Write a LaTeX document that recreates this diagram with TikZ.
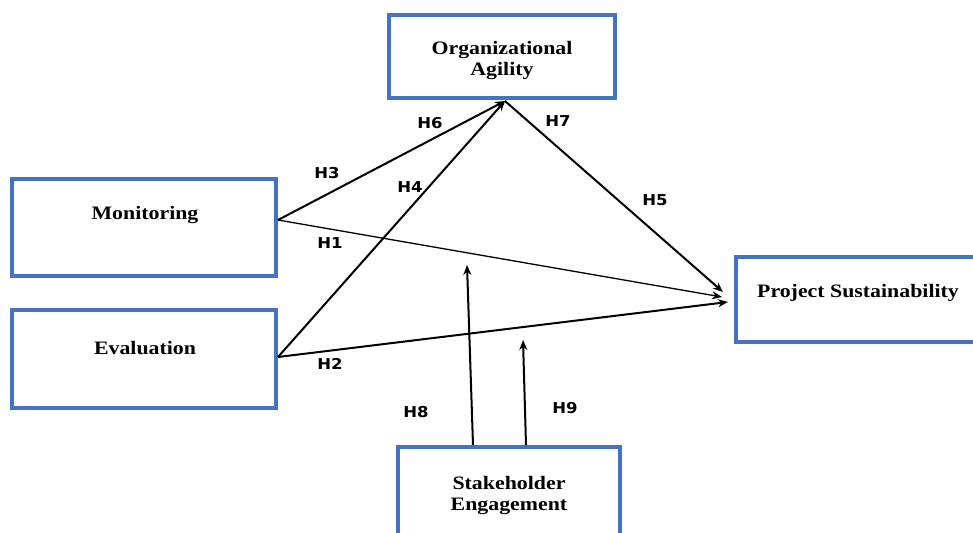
\documentclass[tikz,border=0pt]{standalone}
\usepackage{fontspec}
\setmainfont{Liberation Serif}[FakeStretch=1.15]
\newfontfamily\hfont{DejaVu Sans}[FakeStretch=1.1]
\usetikzlibrary{arrows.meta,calc}
\definecolor{boxblue}{HTML}{4472C4}
\begin{document}
\begin{tikzpicture}[x=1pt,y=-1pt,
  box/.style={draw=boxblue,line width=4pt,rectangle,inner sep=0pt,fill=white},
  btext/.style={font=\fontsize{19}{21}\selectfont\bfseries,align=center,inner sep=0pt},
  hlab/.style={font=\hfont\fontsize{15}{15}\selectfont\bfseries,inner sep=0pt},
  conn/.style={line width=2pt,-{Stealth[length=10pt,width=8pt]}},
  thin/.style={line width=1.3pt,-{Stealth[length=10pt,width=8pt]}}]
\useasboundingbox (0,0) rectangle (973,532);
% boxes
\node[box,minimum width=264pt,minimum height=97pt] (mon) at (144,227.5) {};
\node[box,minimum width=264pt,minimum height=98pt] (eva) at (144,359) {};
\node[box,minimum width=226pt,minimum height=83pt] (oa) at (502,56.5) {};
\node[box,minimum width=254pt,minimum height=85pt] (ps) at (863,299.5) {};
\node[box,minimum width=222pt,minimum height=103pt] (se) at (509,498.5) {};
% texts
\node[btext] (mont) at (145,215) {Monitoring};
\node[btext] (evat) at (145,348) {Evaluation};
\node[btext] (oat) at (502,61) {Organizational\\Agility};
\node[btext] (pst) at (858,293) {Project Sustainability};
\node[btext] (set) at (509,495) {Stakeholder\\Engagement};
% connection points
\coordinate (mo) at ($(mon.east)+(0,-7.5)$);
\coordinate (eo) at ($(eva.east)+(0,-2)$);
\coordinate (oin) at ($(oa.south)+(3,1)$);
\coordinate (p1) at ($(ps.west)+(-11,-7.5)$);
\coordinate (p2) at ($(ps.west)+(-12,-2.5)$);
\coordinate (p3) at ($(ps.west)+(-6,2.5)$);
\coordinate (s8) at ($(se.north)+(-36,0)$);
\coordinate (s9) at ($(se.north)+(17,0)$);
\coordinate (t8) at (467,265);
\coordinate (t9) at (523,340);
% connectors
\draw[conn] (mo) -- (oin);
\draw[thin] (mo) -- (p2);
\draw[conn] (eo) -- (oin);
\draw[conn] (eo) -- (p3);
\draw[conn] (oin) -- (p1);
\draw[conn] (s8) -- (t8);
\draw[conn] (s9) -- (t9);
% labels
\node[hlab] (h1) at (330,243) {H1};
\node[hlab] (h2) at (330,364) {H2};
\node[hlab] (h3) at (327,173) {H3};
\node[hlab] (h4) at (410,187) {H4};
\node[hlab] (h5) at (655,200) {H5};
\node[hlab] (h6) at (430,123) {H6};
\node[hlab] (h7) at (558,121) {H7};
\node[hlab] (h8) at (416,412) {H8};
\node[hlab] (h9) at (565,408) {H9};
\end{tikzpicture}
\end{document}
